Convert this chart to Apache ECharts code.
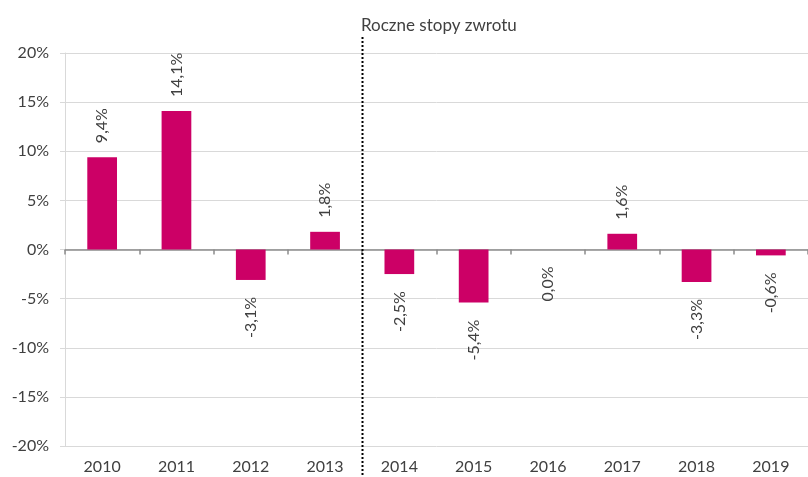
<!DOCTYPE html>
<html>
<head>
<meta charset="utf-8">
<script src="https://cdn.jsdelivr.net/npm/echarts@6/dist/echarts.min.js"></script>
<style>
  html, body { margin: 0; padding: 0; background: #fff; }
  #chart { width: 808px; height: 477px; }
</style>
</head>
<body>
<div id="chart"></div>
<script>
var years = ['2010', '2011', '2012', '2013', '2014', '2015', '2016', '2017', '2018', '2019'];
var returns = [9.4, 14.1, -3.1, 1.8, -2.5, -5.4, 0.0, 1.6, -3.3, -0.6];
var yTicks = [-20, -15, -10, -5, 0, 5, 10, 15, 20];
var splitAfter = '2013'; // linia przerywana miedzy 2013 a 2014

var txt = '#404040';
var font = 'Lato, "Noto Sans", sans-serif';

var chart = echarts.init(document.getElementById('chart'));

function fmt(v) {
  return v.toFixed(1).replace('.', ',') + '%';
}

var data = returns.map(function (v) {
  var up = v > 0;
  return {
    value: v,
    label: {
      show: true,
      position: up ? 'top' : 'bottom',
      rotate: 90,
      align: up ? 'left' : 'right',
      verticalAlign: 'middle',
      distance: up ? 14 : 17,
      formatter: function () { return fmt(v); }
    }
  };
});

var option = {
  animation: false,
  title: {
    text: 'Roczne stopy zwrotu',
    left: 356,
    top: 12,
    textStyle: { fontFamily: font, fontSize: 17, fontWeight: 'normal', color: txt }
  },
  grid: { left: 65, top: 53, width: 747, height: 393, containLabel: false },
  xAxis: [{
    type: 'category',
    data: years,
    position: 'bottom',
    axisLine: { show: false, onZero: false },
    axisTick: { show: false },
    axisLabel: { fontFamily: font, fontSize: 16, color: txt, margin: 13 }
  }, {
    type: 'category',
    data: years,
    position: 'bottom',
    axisLine: { show: true, onZero: true, lineStyle: { color: '#8c8c8c', width: 1.5 } },
    axisTick: { show: true, length: 5, lineStyle: { color: '#8c8c8c', width: 1.5 } },
    axisLabel: { show: false }
  }],
  yAxis: {
    type: 'value',
    min: yTicks[0],
    max: yTicks[yTicks.length - 1],
    interval: 5,
    axisLine: { show: true, lineStyle: { color: '#d9d9d9' } },
    axisTick: { show: true, length: 5, lineStyle: { color: '#d9d9d9' } },
    splitLine: { lineStyle: { color: '#d9d9d9' } },
    axisLabel: {
      fontFamily: font, fontSize: 16, color: txt, margin: 16,
      formatter: function (v) { return v + '%'; }
    }
  },
  series: [{
    type: 'bar',
    data: data,
    barWidth: '40%',
    itemStyle: { color: '#CC0066' },
    label: { fontFamily: font, fontSize: 16, color: txt }
  }]
};

chart.setOption(option);

// pozycja linii liczona z osi kategorii
var i = years.indexOf(splitAfter);
var xa = chart.convertToPixel({ xAxisIndex: 0 }, years[i]);
var xb = chart.convertToPixel({ xAxisIndex: 0 }, years[i + 1]);
var xm = Math.round((xa + xb) / 2) + 0.5;

chart.setOption({
  graphic: [{
    type: 'line',
    shape: { x1: xm, y1: 37, x2: xm, y2: 477 },
    style: { stroke: '#000', lineWidth: 2, lineDash: [2, 2] },
    z: 10
  }]
});
</script>
</body>
</html>
